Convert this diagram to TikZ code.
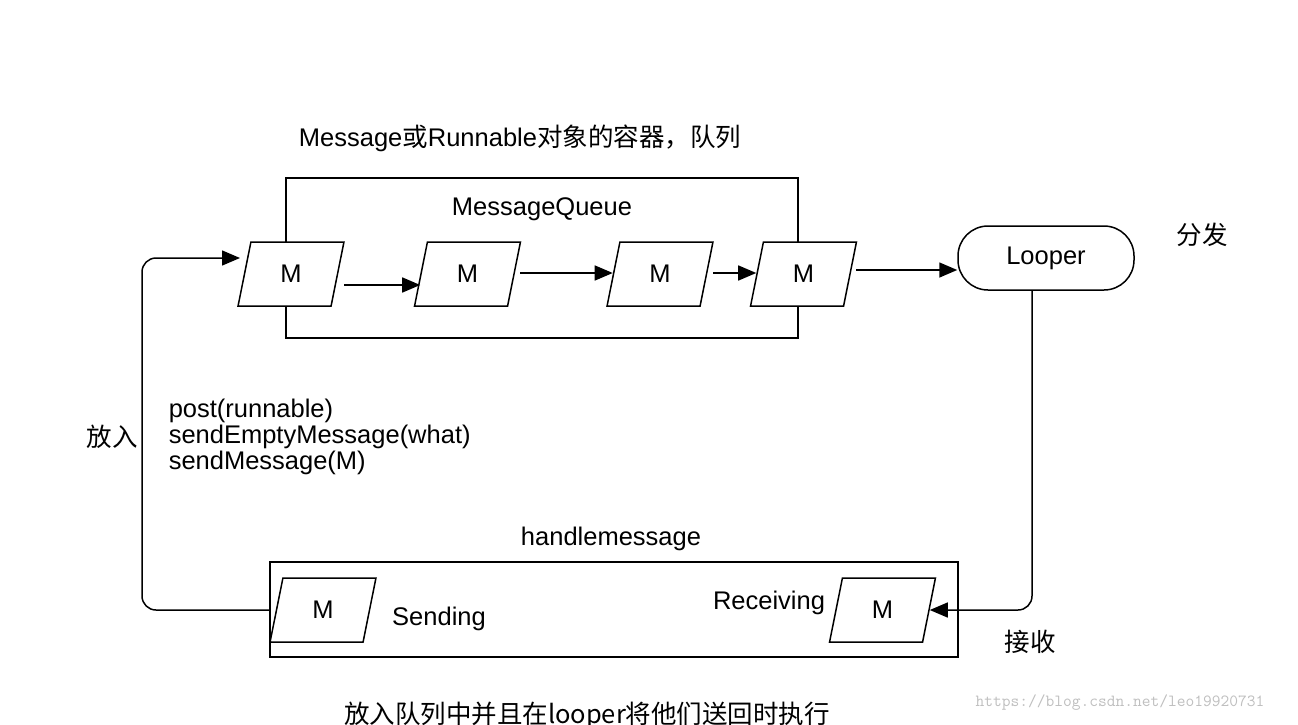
\documentclass[tikz,border=0pt]{standalone}
\usepackage{fontspec}
\setmainfont{Liberation Sans}
\newfontfamily\cjk{Noto Sans CJK SC}
\usetikzlibrary{shapes.geometric,arrows.meta}
\begin{document}
\begin{tikzpicture}[x=1pt,y=-1pt,font=\fontsize{25.5}{30}\selectfont,
  line width=1.5pt,
  msg/.style={draw,fill=white,trapezium,trapezium left angle=79,trapezium right angle=101,trapezium stretches=true,minimum width=106,minimum height=64,inner sep=0pt},
  arr/.style={-{Triangle[length=18pt,width=15pt]}},
  txt/.style={inner sep=0pt}]
\useasboundingbox (0,0) rectangle (1298,724);
\fill[white] (0,0) rectangle (1298,724);
\node[draw,minimum width=512,minimum height=160,inner sep=0] (queue) at (542,258) {};
\node[draw,minimum width=688,minimum height=95,inner sep=0] (handler) at (614,609.5) {};
\node[msg] (m1) at (291,274) {M};
\node[msg] (m2) at (467.5,274) {M};
\node[msg] (m3) at (660,274) {M};
\node[msg] (m4) at (803.5,274) {M};
\node[draw,rounded corners=30pt,minimum width=176,minimum height=64,inner sep=0] (looper) at (1046,258) {Looper};
\node[msg] (m5) at (323,610) {M};
\node[msg] (m6) at (882.5,610) {M};
\draw[arr] (344,285) -- (m2.west|-0,285);
\draw[arr] (520,273) -- (m3.west|-0,273);
\draw[arr] (713,273) -- (m4.west|-0,273);
\draw[arr] (856,270) -- (looper.west|-0,270);
\coordinate (c1) at (1032,610);
\coordinate (c2) at (142,610);
\coordinate (c3) at (142,258);
\draw[arr,rounded corners=14pt] (looper.south-|1032,0) -- (c1) -- (m6.east);
\draw[arr,rounded corners=14pt] (handler.west|-0,610) -- (c2) -- (c3) -- (240,258);
\node[txt] (t1) at (520,138) {Message{\cjk 或}Runnable{\cjk 对象的容器，队列}};
\node[txt] (t2) at (542,209) {MessageQueue};
\node[txt,font=\cjk\fontsize{25.5}{30}\selectfont] (t3) at (1202,235) {分发};
\node[txt,font=\cjk\fontsize{25.5}{30}\selectfont] (t4) at (112,437) {放入};
\node[txt,anchor=west,align=left,font=\fontsize{25.5}{26}\selectfont] (t5) at (168,437) {post(runnable)\\sendEmptyMessage(what)\\sendMessage(M)};
\node[txt] (t6) at (611,539) {handlemessage};
\node[txt] (t7) at (439,619) {Sending};
\node[txt] (t8) at (769,603) {Receiving};
\node[txt,font=\cjk\fontsize{25.5}{30}\selectfont] (t9) at (1030,642) {接收};
\node[txt,font=\cjk\fontsize{25.5}{30}\selectfont] (t10) at (587,716) {放入队列中并且在looper将他们送回时执行};
\node[txt,text=black!25,font=\ttfamily\fontsize{17}{20}\selectfont] (t11) at (1120,703) {https://blog.csdn.net/leo19920731};
\end{tikzpicture}
\end{document}
